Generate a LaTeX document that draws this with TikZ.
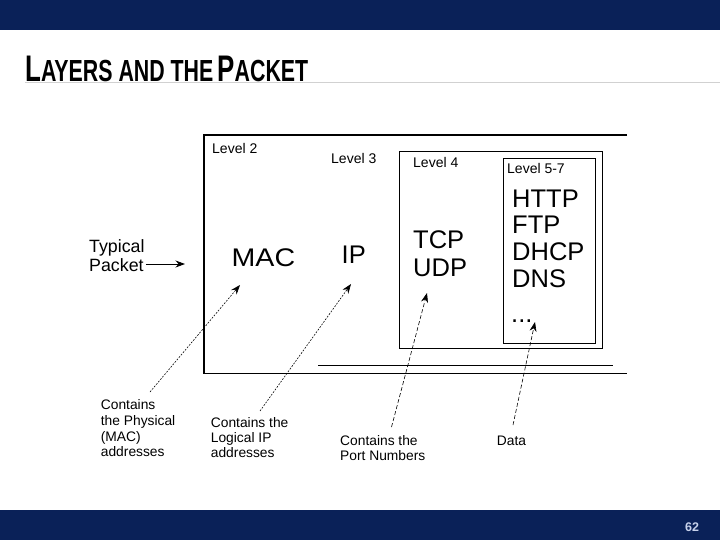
\documentclass[tikz,border=0pt]{standalone}
\usepackage{fontspec}
\setmainfont{Liberation Sans}
\newfontfamily\titlefont[FakeStretch=0.7]{Liberation Sans Bold}
\newfontfamily\macfont[FakeStretch=1.12]{Liberation Sans}
\newfontfamily\numfont{Liberation Sans Bold}
\usetikzlibrary{arrows.meta}
\definecolor{navy}{RGB}{10,33,88}
\definecolor{pagenum}{RGB}{200,210,235}
\begin{document}
\begin{tikzpicture}[x=1pt,y=-1pt,
  txt/.style={inner sep=0pt, anchor=base west},
  lvl/.style={txt, font=\fontsize{14}{16}\selectfont},
  big/.style={txt, font=\fontsize{25.5}{27}\selectfont},
  note/.style={txt, font=\fontsize{13.8}{15.5}\selectfont},
  pkt/.style={txt, font=\fontsize{17.8}{19.5}\selectfont},
  frame/.style={line width=1.3pt},
  box/.style={line width=1pt},
  ptr/.style={line width=0.6pt, -{Stealth[length=9.5pt,width=7pt]}},
  dotptr/.style={ptr, dash pattern=on 1.8pt off 1.4pt},
  dashptr/.style={ptr, dash pattern=on 4pt off 2.2pt}]
\useasboundingbox (0,0) rectangle (720,540);
% banners
\fill[navy] (0,0) rectangle (720,30);
\fill[navy] (0,510) rectangle (720,540);
% title rule and title
\draw[black!18, line width=1.5pt] (25,82.6) -- (720,82.6);
\node[txt] (title) at (25,81.7) {\titlefont\fontsize{37}{37}\selectfont L\fontsize{30.5}{30}\selectfont AYERS AND THE\hspace{4pt}\fontsize{37}{37}\selectfont P\fontsize{30.5}{30}\selectfont ACKET};
\node[txt, text=pagenum] (pnum) at (685,531.5) {\numfont\fontsize{12.5}{14}\selectfont 62};
% frames
\draw[frame] (627,135) -- (204,135) -- (204,373.5) -- (627,373.5);
\draw[frame] (318,365.5) -- (613,365.5);
\draw[box] (399,152) rectangle (602,348.5);
\draw[box] (503,159) rectangle (595,343);
% level labels
\node[lvl] (lv2) at (212,153.3) {Level 2};
\node[lvl] (lv3) at (331,163.3) {Level 3};
\node[lvl] (lv4) at (413,168) {Level 4};
\node[lvl] (lv57) at (507,174) {Level 5-7};
% protocol texts
\node[big] (mac) at (231.5,266) {\macfont MAC};
\node[big] (ip) at (341.5,263) {IP};
\node[big] (tcp) at (413,248.3) {TCP};
\node[big] (udp) at (413,276.5) {UDP};
\node[big] (http) at (512,207.3) {HTTP};
\node[big] (ftp) at (512,233.5) {FTP};
\node[big] (dhcp) at (512,260.3) {DHCP};
\node[big] (dns) at (512,287) {DNS};
\node[big] (dots) at (511,322) {...};
% typical packet
\node[pkt] (typical) at (89,252.3) {Typical};
\node[pkt] (packet) at (89,271.7) {Packet};
\coordinate (pktend) at (185,264);
\draw[ptr, line width=0.8pt] ([xshift=2pt]packet.east |- pktend) -- (pktend);
% notes
\node[note] (n1a) at (100.7,409.3) {Contains};
\node[note] (n1b) at (100.7,425.5) {the Physical};
\node[note] (n1c) at (100.7,441) {(MAC)};
\node[note] (n1d) at (100.7,456) {addresses};
\node[note] (n2a) at (210.7,427.3) {Contains the};
\node[note] (n2b) at (210.7,442.3) {Logical IP};
\node[note] (n2c) at (210.7,457.3) {addresses};
\node[note] (n3a) at (340,445.7) {Contains the};
\node[note] (n3b) at (340,460.7) {Port Numbers};
\node[note] (n4) at (496.7,445.7) {Data};
% pointers
\coordinate (t1) at (150,392);   \coordinate (h1) at (240,285);
\coordinate (t2) at (260,411);   \coordinate (h2) at (351,284);
\coordinate (t3) at (391.5,427); \coordinate (h3) at (427,293);
\coordinate (t4) at (513,425);   \coordinate (h4) at (535,322);
\draw[dotptr] (t1) -- (h1);
\draw[dotptr] (t2) -- (h2);
\draw[dashptr] (t3) -- (h3);
\draw[dashptr] (t4) -- (h4);
\end{tikzpicture}
\end{document}
